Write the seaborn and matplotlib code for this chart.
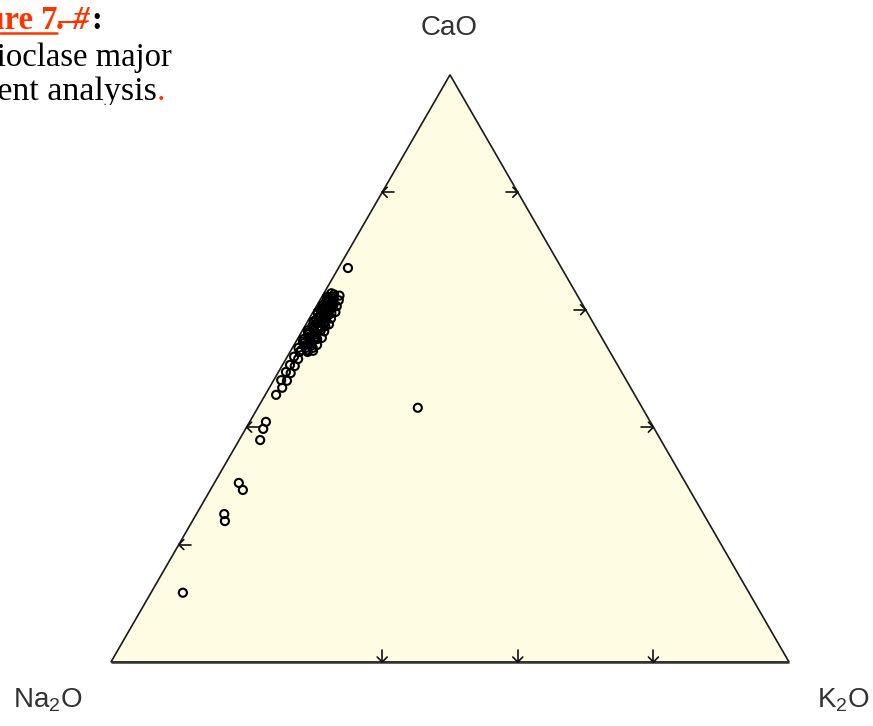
import numpy as np
import pandas as pd
import matplotlib
matplotlib.use("Agg")
import matplotlib.pyplot as plt
import seaborn as sns
from matplotlib.patches import Polygon, Rectangle

# Plagioclase analyses, oxide proportions (%) normalised to CaO + Na2O + K2O
CaO = [67.1, 43.3, 11.8, 25.2, 24.0, 30.5, 29.3, 40.9, 39.7, 37.8,
       45.5, 46.7, 47.9, 48.0, 49.2, 49.4, 50.4, 50.6, 51.6, 52.0,
       52.8, 52.8, 53.5, 53.5, 53.5, 54.3, 54.3, 55.0, 55.0, 55.0,
       55.8, 55.8, 56.5, 56.5, 56.5, 57.2, 57.2, 57.2, 58.0, 58.0,
       58.0, 58.7, 58.7, 59.4, 59.4, 59.4, 60.1, 60.1, 60.8, 60.8,
       60.8, 61.5, 61.5, 62.2, 62.2, 62.8,
       53.1, 53.1, 53.9, 53.9, 54.6, 54.6, 55.4, 55.4, 56.1, 56.1,
       56.9, 56.9, 57.6, 57.6, 58.3, 58.3, 59.0, 59.0, 59.8, 59.8,
       60.5, 60.5, 61.2, 61.2, 61.9, 61.9, 62.6,
       53.0, 54.0, 55.2, 56.3, 57.5, 58.5, 59.6, 60.6, 61.6, 62.4]
Na2O = [31.5, 33.1, 83.5, 70.7, 71.2, 65.9, 65.9, 56.7, 57.7, 59.1,
        52.9, 51.4, 50.1, 50.9, 48.9, 49.5, 47.7, 48.3, 46.6, 47.0,
        45.8, 44.6, 45.6, 44.5, 43.5, 44.4, 43.3, 44.1, 43.2, 42.1,
        43.0, 42.0, 42.7, 41.8, 40.8, 41.7, 40.7, 39.8, 41.1, 40.4,
        39.5, 40.1, 39.1, 39.8, 38.9, 37.8, 38.9, 37.9, 38.3, 37.7,
        36.8, 37.5, 36.5, 37.0, 36.3, 36.1,
        45.4, 44.5, 44.5, 43.5, 44.4, 43.4, 43.1, 42.1, 42.9, 42.0,
        41.7, 40.7, 40.9, 39.8, 40.6, 39.7, 39.5, 38.5, 38.9, 37.9,
        38.3, 37.4, 37.4, 36.6, 37.0, 36.2, 35.8,
        43.7, 42.6, 41.3, 40.4, 39.1, 38.3, 37.1, 36.4, 35.6, 35.1]
K2O = [1.4, 23.6, 4.7, 4.1, 4.8, 3.6, 4.8, 2.4, 2.6, 3.1,
       1.6, 1.9, 2.0, 1.1, 1.9, 1.1, 1.9, 1.1, 1.8, 1.0,
       1.4, 2.6, 0.9, 2.0, 3.0, 1.3, 2.4, 0.9, 1.8, 2.9,
       1.2, 2.2, 0.8, 1.7, 2.7, 1.1, 2.1, 3.0, 0.9, 1.6,
       2.5, 1.2, 2.2, 0.8, 1.7, 2.8, 1.0, 2.0, 0.9, 1.5,
       2.4, 1.0, 2.0, 0.8, 1.5, 1.1,
       1.5, 2.4, 1.6, 2.6, 1.0, 2.0, 1.5, 2.5, 1.0, 1.9,
       1.4, 2.4, 1.5, 2.6, 1.1, 2.0, 1.5, 2.5, 1.3, 2.3,
       1.2, 2.1, 1.4, 2.2, 1.1, 1.9, 1.6,
       3.3, 3.4, 3.5, 3.3, 3.4, 3.2, 3.3, 3.0, 2.8, 2.5]

# Tick fractions drawn on each side of the triangle
ticks_bottom = [0.4, 0.6, 0.8]
ticks_left = [0.2, 0.4, 0.6, 0.8]
ticks_right = [0.4, 0.6, 0.8]

H = np.sqrt(3) / 2

df = pd.DataFrame({"CaO": CaO, "Na2O": Na2O, "K2O": K2O})
total = df[["CaO", "Na2O", "K2O"]].sum(axis=1)
df["x"] = (df["K2O"] + 0.5 * df["CaO"]) / total
df["y"] = H * df["CaO"] / total

sns.set_theme(style="white")
plt.rcParams["font.family"] = ["Liberation Sans", "DejaVu Sans"]
plt.rcParams["mathtext.default"] = "regular"

W, Hpx = 873, 726
fig = plt.figure(figsize=(W / 100, Hpx / 100), dpi=100)
fig.patch.set_facecolor("white")
ax = fig.add_axes([0, 0, 1, 1])
scale = 678.0          # pixels per unit side length
ax.set_xlim(-111 / scale, (W - 111) / scale)
ax.set_ylim(-(Hpx - 662) / scale, 662 / scale)
ax.axis("off")

tri = Polygon([(0, 0), (1, 0), (0.5, H)], closed=True,
              facecolor="#FEFCE3", edgecolor="#1a1a1a", lw=1.2, zorder=1)
ax.add_patch(tri)
ax.plot([0, 1], [0, 0], color="#333333", lw=1.8, zorder=2,
        solid_capstyle="butt")

# Outward-pointing arrow ticks along the three sides
px = 1 / scale
L, a = 12 * px, 5 * px
tk = dict(color="#111111", lw=1.2, zorder=3)
for t in ticks_bottom:
    ax.plot([t, t], [0, L], **tk)
    ax.plot([t - a, t, t + a], [a, 0, a], **tk)
for t in ticks_left:
    x0, y0 = t / 2, H * t
    ax.plot([x0, x0 + L], [y0, y0], **tk)
    ax.plot([x0 + a, x0, x0 + a], [y0 + a, y0, y0 - a], **tk)
for t in ticks_right:
    x0, y0 = 1 - t / 2, H * t
    ax.plot([x0, x0 - L], [y0, y0], **tk)
    ax.plot([x0 - a, x0, x0 - a], [y0 + a, y0, y0 - a], **tk)

sns.scatterplot(data=df, x="x", y="y", ax=ax, marker="o", s=34,
                facecolors="none", edgecolor="black", linewidth=1.5,
                zorder=4, legend=False)

lab = dict(fontsize=20, color="#333333", va="baseline")
ax.text((449 - 111) * px, (662 - 35) * px, "CaO", ha="center", **lab)
ax.text((13 - 111) * px, (662 - 707) * px, "Na$_2$O", ha="left", **lab)
ax.text((817 - 111) * px, (662 - 707) * px, "K$_2$O", ha="left", **lab)

# Caption block in the upper-left corner
def fx(v):
    return v / W

def fy(v):
    return 1 - v / Hpx

red = "#FF3300"
serif = ["Liberation Serif", "DejaVu Serif"]
fs = 23.5
fig.text(fx(57), fy(29), "Figure 7", ha="right", va="baseline", fontsize=fs,
         family=serif, weight="bold", color=red)
fig.text(fx(57), fy(29), ". #", ha="left", va="baseline", fontsize=fs,
         family=serif, weight="bold", style="italic", color=red)
fig.text(fx(91), fy(29), ":", ha="left", va="baseline", fontsize=fs,
         family=serif, weight="bold", color="black")
fig.add_artist(plt.Line2D([fx(0), fx(57)], [fy(32.5), fy(32.5)],
                          color=red, lw=1.8))
fig.add_artist(plt.Line2D([fx(59), fx(86)], [fy(22), fy(22)],
                          color=red, lw=1.5))
fig.text(fx(172), fy(66), "Plagioclase major", ha="right", va="baseline",
         fontsize=fs, family=serif, color="black")
fig.text(fx(157), fy(100), "element analysis", ha="right", va="baseline",
         fontsize=24.5, family=serif, color="black")
fig.text(fx(157), fy(100), ".", ha="left", va="baseline",
         fontsize=24.5, family=serif, color=red)
fig.add_artist(Rectangle((0, fy(135)), fx(250), fy(105) - fy(135),
                         transform=fig.transFigure, facecolor="white",
                         edgecolor="none", zorder=10))

fig.savefig("out.png", dpi=100, facecolor="white")
